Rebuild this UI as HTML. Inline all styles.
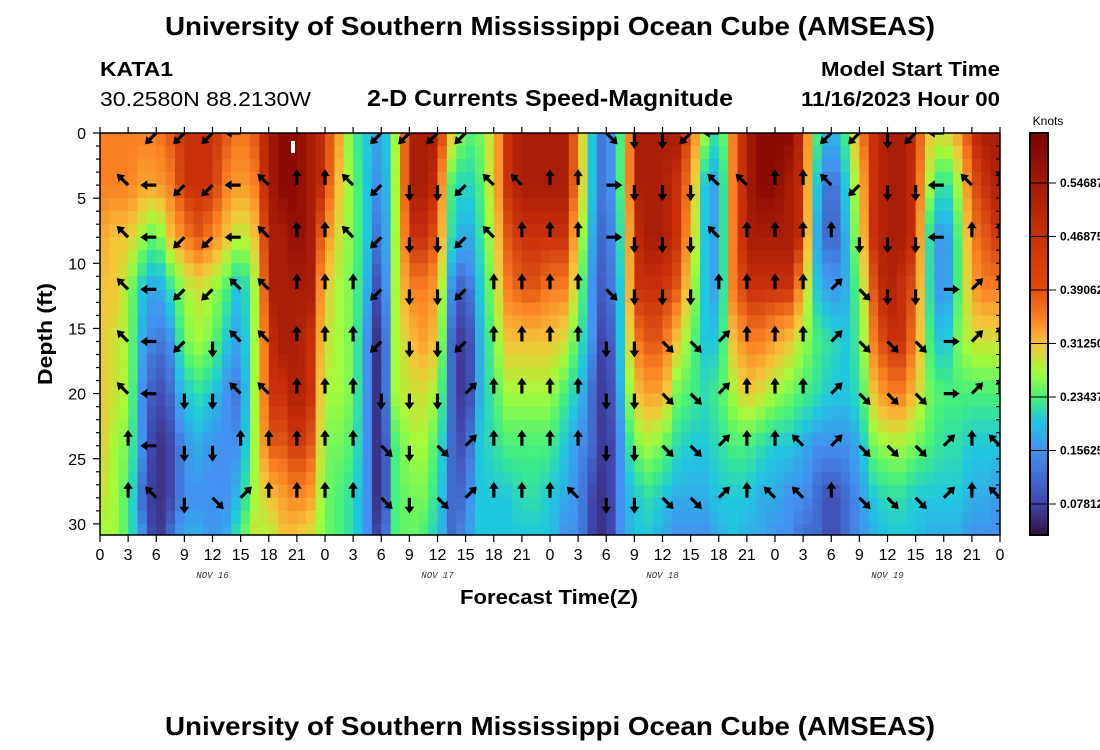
<!DOCTYPE html>
<html><head><meta charset="utf-8">
<style>
html,body{margin:0;padding:0;background:#fff;}
svg{display:block;font-family:"Liberation Sans",Arial,sans-serif;}
</style></head>
<body>
<svg id="chart" width="1100" height="750" viewBox="0 0 1100 750">
<defs>
<clipPath id="plotclip"><rect x="100" y="133" width="900" height="402"/></clipPath>
<linearGradient id="cbgrad" x1="0" y1="1" x2="0" y2="0">
<stop offset="0" stop-color="#30123b"/>
<stop offset="0.077" stop-color="#4145ab"/>
<stop offset="0.21" stop-color="#4391f0"/>
<stop offset="0.285" stop-color="#1fc8de"/>
<stop offset="0.34" stop-color="#46f07a"/>
<stop offset="0.405" stop-color="#a4fc3c"/>
<stop offset="0.475" stop-color="#f5c53a"/>
<stop offset="0.54" stop-color="#fb8022"/>
<stop offset="0.62" stop-color="#e4460a"/>
<stop offset="0.78" stop-color="#c02a04"/>
<stop offset="1" stop-color="#7a0403"/>
</linearGradient>
</defs>
<text x="550" y="35" text-anchor="middle" font-size="26" font-weight="bold" textLength="770" lengthAdjust="spacingAndGlyphs">University of Southern Mississippi Ocean Cube (AMSEAS)</text>
<text x="100" y="76" font-size="20" font-weight="bold" textLength="73" lengthAdjust="spacingAndGlyphs">KATA1</text>
<text x="100" y="106" font-size="20" textLength="211" lengthAdjust="spacingAndGlyphs">30.2580N  88.2130W</text>
<text x="550" y="106" text-anchor="middle" font-size="23" font-weight="bold" textLength="366" lengthAdjust="spacingAndGlyphs">2-D Currents Speed-Magnitude</text>
<text x="1000" y="76" text-anchor="end" font-size="20" font-weight="bold" textLength="179" lengthAdjust="spacingAndGlyphs">Model Start Time</text>
<text x="1000" y="106" text-anchor="end" font-size="20" font-weight="bold" textLength="199" lengthAdjust="spacingAndGlyphs">11/16/2023 Hour 00</text>
<g id="heat" clip-path="url(#plotclip)"></g>
<rect x="291" y="141" width="4" height="12" fill="#fff"/>
<g id="arrows" clip-path="url(#plotclip)"></g>
<rect x="100" y="133" width="900" height="402" fill="none" stroke="#000" stroke-width="1.5"/>
<g id="axes"></g>
<text transform="translate(52,334) rotate(-90)" text-anchor="middle" font-size="20" font-weight="bold" textLength="102" lengthAdjust="spacingAndGlyphs">Depth (ft)</text>
<text x="549" y="604" text-anchor="middle" font-size="20" font-weight="bold" textLength="178" lengthAdjust="spacingAndGlyphs">Forecast Time(Z)</text>
<text x="1048" y="125" text-anchor="middle" font-size="12">Knots</text>
<rect x="1030" y="133" width="18" height="402" fill="url(#cbgrad)" stroke="#000" stroke-width="2"/>
<g id="cbticks"></g>
<text x="550" y="735" text-anchor="middle" font-size="26" font-weight="bold" textLength="770" lengthAdjust="spacingAndGlyphs">University of Southern Mississippi Ocean Cube (AMSEAS)</text>
</svg>
<script>
// ---- data ----
var gridDepths = [0,4,8,12,16,20,24,28,31];
var gridStepHours = 1.5;
// speed level (0 = slowest ... 9 = fastest) per 1.5-hour column, at gridDepths
var speedLevels = [
[7,7,6.5,6,6,6,6,5.5,5],[7,7,6,6,5.5,5.5,5,5,5],[7,7,6,5,5,5,4.5,4,4],[7,6.5,5,3,2.5,2,2,1.5,2],
[7,6.5,4,2,1.5,1,0.5,0.5,0.5],[7.5,7,6,3.5,2,1.5,1,1,1.5],[8,8,7,5,4.5,3,2,2,2.5],[8,8,7.5,5.5,5,3.5,2.5,2,2.5],
[8,8,7,5,4.5,3,2,2,2],[7.5,7,6,4,3,2,2,2,2.5],[7,6.5,5,2.5,2,1.5,2,3,4],[7.5,7,6,5,5,5,5,5,5.5],
[8.5,8.5,8.5,8.5,8,8,7.5,6,5],[9,9,8.5,8.5,8.5,8,7.5,6.5,6],[9,9,9,8.5,8.5,8.5,8,7,6],[8.5,8.5,8.5,8.5,8,8,7.5,6.5,5.5],
[8,8,7,6,5.5,5,4.5,4.5,4.5],[6.5,6,5.5,5,5,5,4.5,4,4],[4,4.5,4.5,4.5,4.5,4.5,4,3.5,3.5],[3,3,3,2.5,2,2,2,2,2],
[2,1.5,1,0.5,0,0,0,0,0.5],[5,5,5,5,5,5,4,4,4],[8.5,8.5,8,7,6,5.5,5,4.5,4.5],[8.5,8.5,8,7,6.5,5.5,5,4.5,4],
[8.5,8,7.5,6.5,6,5,4,3.5,3],[6,4,3.5,2,1.5,1.5,1.5,1.5,1.5],[4,3,2,1,0.5,0.5,1,1.5,2],[4.5,4,3.5,3,2.5,2.5,3,3,3],
[6,6,5.5,5,4.5,4,3.5,3,3],[8,8,7.5,7,6,5,4,3,3],[8.5,8.5,8,7.5,6,5,4,3.5,3],[8.5,8.5,8,7.5,6,5,4,3.5,3],
[8.5,8.5,8,7,6,5,4,3,3],[8.5,8.5,8,7,5.5,4,3,2.5,2],[7,7,6,5,4,3,2,2,2],[3,3,2.5,2,2,1.5,1.5,1,1],
[1,1,1,1,0.5,0.5,0.5,0.5,0.5],[4,4,3.5,3,3,2.5,2,2,2],[8.5,8.5,8,8,7,6,4.5,3,3],[8.5,8.5,8.5,8,7.5,6.5,5,3.5,3],
[8.5,8.5,8.5,8,7.5,6.5,4.5,3,2.5],[8.5,8,8,7.5,6,4.5,3.5,2.5,2],[7.5,7,6.5,5.5,4.5,4,3,2.5,2],[5,3,3,3,3,3.5,3,2.5,2],
[3,2,2,2,3,4,3.5,3,2.5],[7,7,7,7,6,5,4,3,3],[8.5,8.5,8.5,8,7,6,4,3,2.5],[9,9,8.5,8,7,5.5,3.5,2.5,2.5],
[9,9,8.5,8,6.5,5,3,2.5,2],[9,8.5,8.5,8,6,4.5,3,2,2],[8,8,8,6.5,5,4,2.5,2,1.5],[4,3,2.5,3,4,3.5,2,1.5,1.5],
[2,1,1,2,3.5,3,2,1,1],[4,3,2.5,2.5,3,3,2,1.5,1.5],[7,6,5.5,4.5,4,3.5,2.5,2,2],[8,8,8,7.5,7,6,4.5,3,2.5],
[8.5,8.5,8.5,8.5,8,7,5,3.5,3],[8.5,8.5,8.5,8,8,7,5,3.5,3],[8,8,8,7.5,7,6,4.5,3,3],[6,5,3.5,3.5,4,4.5,4,3,2.5],
[5.5,3,1.5,1.5,2.5,4,3.5,3,2.5],[6.5,5,4,4,4.5,4,3.5,3,2.5],[8,7.5,7,6.5,5.5,4,3,2.5,2],[8.5,8,7.5,7,5.5,4,3,2.5,2],
[8.5,8.5,8,7,5.5,4,3,2,2]
];
var arrowDepths = [0,4,8,12,16,20,24,28];
var arrowHours = [3,6,9,12,15,18,21,24,27,30,33,36,39,42,45,48,51,54,57,60,63,66,69,72,75,78,81,84,87,90,93,96];
var arrowDirs = [
"N SW SW SW W N N N N SW SW SW SW N N N N SE S S SW W N N N SW SW S SW W N N",
"NW W SW SW W NW N N NW SW S S SW NW NW N N E S S S NW NW N N NW SW S S W NW N",
"NW W SW SW W NW N N NW SW S S SW NW N N N E S S S NW N N N N S S S W N N",
"NW W SW SW NW NW N N N SW S S SW N N N N SE S S S N N N N NE SE S S E NE N",
"NW W SW S NW NW N N N SW S S SW N N N N S S SE SE NE N N N NE SE SE SE E NE N",
"NW W S S NW NW N N N S S S NE N N N N S S SE SE NE N N N NE SE SE SE E NE N",
"N W S S N N N N N SE S SE NE N N N N S S SE SE NE N N NW NE SE SE SE NE N NW",
"N NW S SE NE N N N N SE S SE NE N N N NW S S SE SE NE N NW NW N SE SE SE NE N NW"
];
var depthTicks = [0,5,10,15,20,25,30];
var hourLabels = ["0","3","6","9","12","15","18","21"];
var dayLabels = ["NOV 16","NOV 17","NOV 18","NOV 19"];
var cbValues = [0.546875,0.46875,0.390625,0.3125,0.234375,0.15625,0.078125];
var cbLabels = ["0.54687","0.46875","0.39062","0.31250","0.23437","0.15625","0.07812"];

// ---- scales ----
var NS="http://www.w3.org/2000/svg";
function xS(t){return 100+t*9.375;}
function yS(d){return 133+d*13.03;}
function cbY(v){return 183+(0.546875-v)/0.078125*53.5;}
var levelColors=[[48,18,59],[65,69,171],[67,145,240],[31,200,222],[70,240,122],[164,252,60],[245,197,58],[251,128,34],[200,48,10],[140,10,3]];
function colorFor(v){
  v=Math.max(0,Math.min(9,v));var i=Math.min(8,Math.floor(v)),f=v-i;
  var a=levelColors[i],b=levelColors[i+1];
  return "rgb("+[0,1,2].map(function(k){return Math.round(a[k]+(b[k]-a[k])*f);}).join(",")+")";
}
function sample(t,d){
  var ci=t/gridStepHours, c0=Math.max(0,Math.min(speedLevels.length-2,Math.floor(ci))), cf=Math.max(0,Math.min(1,ci-c0));
  var r0=0;while(r0<gridDepths.length-2&&d>gridDepths[r0+1])r0++;
  var rf=Math.max(0,Math.min(1,(d-gridDepths[r0])/(gridDepths[r0+1]-gridDepths[r0])));
  var A=speedLevels[c0],B=speedLevels[c0+1];
  var top=A[r0]+(B[r0]-A[r0])*cf, bot=A[r0+1]+(B[r0+1]-A[r0+1])*cf;
  return top+(bot-top)*rf;
}
// ---- heatmap ----
var heat=document.getElementById("heat");
var maxT=(speedLevels.length-1)*gridStepHours;
for(var h=0;h<maxT;h++){
  for(var d=0;d<31;d++){
    var r=document.createElementNS(NS,"rect");
    
    
    var x0=xS(h),x1=xS(h+1),y0=yS(d),y1=yS(d+1);
    r.setAttribute("x",x0.toFixed(2));r.setAttribute("y",y0.toFixed(2));
    r.setAttribute("width",(x1-x0+0.6).toFixed(2));r.setAttribute("height",(y1-y0+0.6).toFixed(2));
    r.setAttribute("fill",colorFor(sample(h+0.5,d+0.5)));
    heat.appendChild(r);
  }
}
// ---- arrows ----
var ang={E:0,NE:45,N:90,NW:135,W:180,SW:-135,S:-90,SE:-45};
var arrows=document.getElementById("arrows");
for(var ri=0;ri<arrowDepths.length;ri++){
  var dirs=arrowDirs[ri].split(" ");
  for(var ci=0;ci<arrowHours.length;ci++){
    var p=document.createElementNS(NS,"path");
    
    
    p.setAttribute("d","M0,-1.6 L9,-1.6 L9,-4.8 L16,0 L9,4.8 L9,1.6 L0,1.6 Z");
    p.setAttribute("fill","#000");
    p.setAttribute("transform","translate("+xS(arrowHours[ci]).toFixed(1)+","+yS(arrowDepths[ri]).toFixed(1)+") rotate("+(-ang[dirs[ci]])+")");
    arrows.appendChild(p);
  }
}
// ---- axes ----
var axes=document.getElementById("axes");
function line(x1,y1,x2,y2,name,w){var l=document.createElementNS(NS,"line");
  
  
  l.setAttribute("x1",x1);l.setAttribute("y1",y1);l.setAttribute("x2",x2);l.setAttribute("y2",y2);l.setAttribute("stroke","#000");l.setAttribute("stroke-width",w||1.2);axes.appendChild(l);}
function text(x,y,s,size,anchor,name,extra){var t=document.createElementNS(NS,"text");
  
  
  t.setAttribute("x",x);t.setAttribute("y",y);t.setAttribute("font-size",size);t.setAttribute("text-anchor",anchor);
  if(extra){for(var k in extra)t.setAttribute(k,extra[k]);}
  t.textContent=s;axes.appendChild(t);}
for(var d=0;d<=30;d++){
  var major=depthTicks.indexOf(d)>=0;
  line(major?93:96,yS(d),100,yS(d),'y-tick');
  line(1000,yS(d),996,yS(d),'y-tick-right');
}
depthTicks.forEach(function(d){text(86,yS(d)+6,String(d),16,"end",'y-tick-label');});
for(var k=0;k<=32;k++){
  var x=xS(k*3);
  line(x,535,x,542,'x-tick');line(x,133,x,127,'x-tick-top');
  text(x,560,hourLabels[k%8],16,"middle",'x-tick-label');
}
dayLabels.forEach(function(s,i){text(xS(12+24*i),578,s,9,"middle",'date-label',{"font-family":"Liberation Mono, monospace","font-style":"italic","fill":"#333"});});
// ---- colorbar ticks ----
var cbt=document.getElementById("cbticks");
cbValues.forEach(function(v,i){
  var y=cbY(v);
  var l=document.createElementNS(NS,"line");
  
  
  l.setAttribute("x1",1030);l.setAttribute("x2",1056);l.setAttribute("y1",y);l.setAttribute("y2",y);l.setAttribute("stroke","#000");l.setAttribute("stroke-width",1);
  cbt.appendChild(l);
  var t=document.createElementNS(NS,"text");
  
  
  t.setAttribute("x",1060);t.setAttribute("y",y+4);t.setAttribute("font-size",12);t.setAttribute("font-weight","bold");
  t.textContent=cbLabels[i];cbt.appendChild(t);
});
</script>
</body></html>
